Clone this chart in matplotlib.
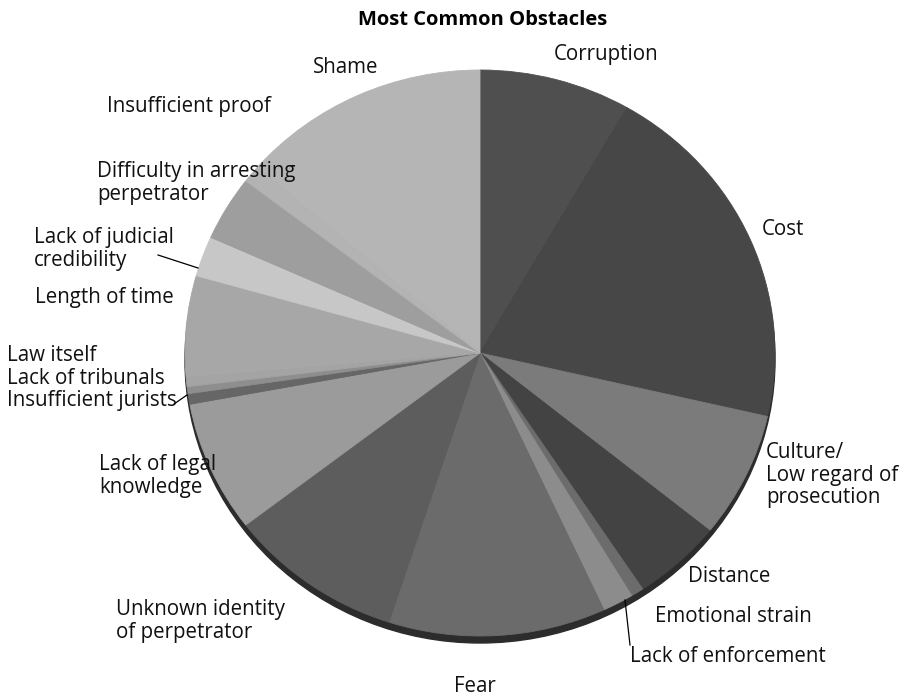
import matplotlib.pyplot as plt
from matplotlib.patches import Ellipse

plt.rcParams['font.family'] = ['Open Sans', 'DejaVu Sans']

# slices clockwise from 12 o'clock, values in percent
categories = ['Corruption', 'Cost', 'Culture/\nLow regard of\nprosecution', 'Distance',
              'Emotional strain', 'Lack of enforcement', 'Fear',
              'Unknown identity\nof perpetrator', 'Lack of legal\nknowledge',
              'Insufficient jurists', 'Lack of tribunals', 'Law itself',
              'Length of time', 'Lack of judicial\ncredibility',
              'Difficulty in arresting\nperpetrator', 'Insufficient proof', 'Shame']
values = [8.3, 20.3, 7.2, 4.9, 0.7, 1.7, 11.9, 9.6, 7.5, 0.6, 0.4, 0.5,
          5.8, 2.3, 3.7, 1.0, 13.6]
shades = ['#4f4f4f', '#474747', '#7b7b7b', '#434343', '#6c6c6c', '#8c8c8c',
          '#6b6b6b', '#5d5d5d', '#9b9b9b', '#666666', '#8e8e8e', '#a4a4a4',
          '#a7a7a7', '#c7c7c7', '#9e9e9e', '#b3b3b3', '#b5b5b5']

# label anchor positions in image pixels (x, y from top) and alignment
label_pos = [(606, 55, 'center'), (762, 230, 'left'), (766, 475, 'left'),
             (688, 577, 'left'), (655, 616, 'left'), (630, 657, 'left'),
             (475, 686, 'center'), (116, 621, 'left'), (99, 476, 'left'),
             (7, 401, 'left'), (7, 379, 'left'), (7, 356, 'left'),
             (35, 298, 'left'), (34, 249, 'left'), (97, 183, 'left'),
             (107, 107, 'left'), (313, 68, 'left')]

CX, CY, RX, RY = 480, 353, 295, 283
W, H = 905, 696


def px(x, y):
    return (x - CX) / RX, (CY - y) / RY


fig = plt.figure(figsize=(W / 100, H / 100), dpi=100)
ax = fig.add_axes([0, 0, 1, 1])
ax.axis('off')

# dark rim underneath to give the tilted look
ax.add_patch(Ellipse((0, -7 / RY), 2, 2, color='#2c2c2c', zorder=0))

wedges, _ = ax.pie(values, colors=shades, startangle=90, counterclock=False,
                   radius=1, wedgeprops=dict(linewidth=0.6))
for w in wedges:
    w.set_edgecolor(w.get_facecolor())
ax.set_xlim(px(0, 0)[0], px(W, 0)[0])
ax.set_ylim(px(0, H)[1], px(0, 0)[1])
ax.set_aspect('auto')

for name, (x, y, ha) in zip(categories, label_pos):
    tx, ty = px(x, y)
    ax.text(tx, ty, name, ha=ha, va='center', fontsize=14.8,
            linespacing=1.1, color='#111111')

# leader lines
for (x0, y0), (x1, y1) in [((630, 645), (625, 600)), ((158, 255), (198, 268)),
                           ((174, 404), (187, 395))]:
    a, b = px(x0, y0), px(x1, y1)
    ax.plot([a[0], b[0]], [a[1], b[1]], color='black', lw=0.9)

tx, ty = px(483, 20)
ax.text(tx, ty, 'Most Common Obstacles', ha='center', va='center',
        fontsize=14.5, fontweight='bold')

fig.savefig('out.png', dpi=100)
